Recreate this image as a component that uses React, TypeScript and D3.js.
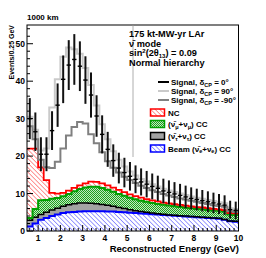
import React from 'react'
import * as d3 from 'd3'

// energy binning (GeV)
const E_MIN = 0.5
const BIN = 0.25

// background components, events per 0.25 GeV bin (stacked bottom -> top)
const beamNue = [1.2, 2.0, 3.0, 3.5, 4.0, 4.4, 4.8, 5.0, 5.1, 5.2, 5.3, 5.3, 5.3, 5.3, 5.2, 5.2, 5.1, 5.0, 4.9, 4.8, 4.7, 4.6, 4.5, 4.4, 4.3, 4.2, 4.1, 4.0, 3.9, 3.8, 3.7, 3.6, 3.5, 3.4, 3.3, 3.0, 2.6, 2.5]
const tauCC = [1.7, 1.7, 1.4, 1.5, 1.6, 1.7, 1.8, 2.0, 2.2, 2.3, 2.2, 2.1, 2.0, 1.8, 1.7, 1.4, 1.2, 1.0, 0.8, 0.6, 0.5, 0.4, 0.3, 0.2, 0.2, 0.1, 0.1, 0.1, 0.1, 0.1, 0.1, 0.1, 0.1, 0.1, 0.1, 0.1, 0.1, 0.1]
const numuCC = [0.6, 2.2, 3.8, 3.3, 3.0, 2.7, 2.7, 2.9, 3.3, 3.7, 4.1, 4.4, 4.5, 4.4, 4.1, 3.9, 3.6, 3.4, 3.2, 3.1, 2.9, 2.8, 2.7, 2.6, 2.5, 2.5, 2.4, 2.3, 2.2, 2.2, 2.1, 2.1, 2.0, 2.0, 2.0, 2.1, 1.7, 1.7]
const ncBg = [18.5, 16.1, 8.8, 5.3, 1.6, 1.2, 0.9, 0.9, 0.9, 1.0, 1.1, 1.4, 1.3, 1.2, 1.2, 1.1, 1.1, 1.0, 0.9, 0.8, 0.8, 0.7, 0.7, 0.7, 0.6, 0.6, 0.6, 0.6, 0.6, 0.5, 0.5, 0.5, 0.5, 0.4, 0.4, 0.4, 0.4, 0.4]

// signal + background totals
const totalDcp0 = [30, 26.5, 20.5, 20.5, 26.8, 33.6, 40.5, 44.3, 45.8, 44, 40.3, 36.3, 30.7, 25.8, 21.8, 18.8, 16.8, 15.6, 14.6, 13.8, 13.1, 12.5, 11.9, 11.4, 10.7, 10.3, 9.9, 9.5, 9.1, 8.7, 8.4, 8.1, 7.8, 7.5, 7.2, 6.9, 5.7, 5.5]
const totalDcp90 = [30.5, 27, 21.5, 22, 33, 40.5, 46.5, 49, 48.5, 47.3, 43.5, 39, 33.5, 28.5, 24.5, 21.3, 19, 17.2, 15.9, 14.8, 13.9, 13.2, 12.5, 11.9, 11.3, 10.8, 10.4, 10.0, 9.6, 9.2, 8.9, 8.6, 8.3, 8.0, 7.7, 7.4, 6.1, 5.9]
const totalDcpM90 = [28, 24.5, 19, 17, 16.8, 18.5, 22, 25.5, 27.8, 29.1, 28.7, 25.8, 23.4, 21, 18.6, 16.9, 15.6, 14.5, 13.6, 12.8, 12.1, 11.5, 10.9, 10.4, 9.9, 9.5, 9.1, 8.7, 8.4, 8.1, 7.8, 7.5, 7.2, 6.9, 6.7, 6.5, 5.3, 5.1]

const xTicks = [1, 2, 3, 4, 5, 6, 7, 8, 9, 10]
const yTicks = [0, 10, 20, 30, 40, 50]

const FONT = "'Liberation Sans', Arial, Helvetica, sans-serif"
const NUBAR = 'ν\u0304'

export default function App() {
  const W = 266, H = 258
  const x = d3.scaleLinear().domain([0.5, 10]).range([27, 238.5])
  const y = d3.scaleLinear().domain([0, 55]).range([231, 25])
  const n = beamNue.length
  const edges = d3.range(n + 1).map(i => E_MIN + i * BIN)

  const rows = d3.range(n).map(i => ({ beam: beamNue[i], tau: tauCC[i], numu: numuCC[i], nc: ncBg[i] }))
  const series = d3.stack<any>().keys(['beam', 'tau', 'numu', 'nc'])(rows)

  const pts = (vals: number[]) => [...vals.map((v, i) => [edges[i], v] as [number, number]), [edges[n], vals[n - 1]] as [number, number]]
  const stepLine = d3.line<[number, number]>().x(d => x(d[0])).y(d => y(d[1])).curve(d3.curveStepAfter)
  const stepArea = d3.area<[number, number, number]>()
    .x(d => x(d[0])).y0(d => y(d[1])).y1(d => y(d[2])).curve(d3.curveStepAfter)

  const layer = (s: any) => {
    const lo = s.map((d: any) => d[0])
    const hi = s.map((d: any) => d[1])
    const a = [...lo.map((v: number, i: number) => [edges[i], v, hi[i]]), [edges[n], lo[n - 1], hi[n - 1]]] as [number, number, number][]
    return { area: stepArea(a) || '', top: stepLine(pts(hi)) || '' }
  }
  const fills: Record<string, { fill: string; stroke: string; sw: number }> = {
    beam: { fill: 'url(#hBlue)', stroke: '#0000ff', sw: 2 },
    tau: { fill: '#a3a3a3', stroke: '#000', sw: 1.5 },
    numu: { fill: 'url(#hGreen)', stroke: '#00a000', sw: 2 },
    nc: { fill: 'url(#hRed)', stroke: '#ff0000', sw: 1.8 },
  }

  const minorX = d3.range(0.6, 10.0001, 0.2).filter(v => Math.abs(v - Math.round(v)) > 1e-6)
  const minorY = d3.range(0, 55, 2).filter(v => v % 10 !== 0)

  const legLines = [
    { label: '0', color: '#000', y: 82 },
    { label: '90', color: '#cacaca', y: 91 },
    { label: '-90', color: '#808080', y: 100 },
  ]

  const flav = (f: string) => (
    <>(<tspan>{NUBAR}</tspan><tspan dy={1.8} fontSize={5.5}>{f}</tspan><tspan dy={-1.8}>+ν</tspan><tspan dy={1.8} fontSize={5.5}>{f}</tspan><tspan dy={-1.8}>) CC</tspan></>
  )

  return (
    <svg width={W} height={H} style={{ position: 'fixed', left: 0, top: 0, background: '#fff' }} fontFamily={FONT} fontWeight="bold">
      <defs>
        <pattern id="hRed" width="3.2" height="3.2" patternUnits="userSpaceOnUse" patternTransform="rotate(-45)">
          <rect width="3.2" height="3.2" fill="#fff" />
          <line x1="0" y1="0" x2="0" y2="3.2" stroke="#ff3030" strokeWidth="1" />
        </pattern>
        <pattern id="hBlue" width="3.2" height="3.2" patternUnits="userSpaceOnUse" patternTransform="rotate(-45)">
          <rect width="3.2" height="3.2" fill="#fff" />
          <line x1="0" y1="0" x2="0" y2="3.2" stroke="#3a3aff" strokeWidth="1" />
        </pattern>
        <pattern id="hGreen" width="2" height="2" patternUnits="userSpaceOnUse">
          <rect width="2" height="2" fill="#bfeabf" />
          <rect width="1" height="1" fill="#1f9f1f" />
          <rect x="1" y="1" width="1" height="1" fill="#1f9f1f" />
        </pattern>
      </defs>

      {/* stacked backgrounds */}
      {series.map(s => {
        const l = layer(s)
        return <path key={`a-${s.key}`} d={l.area} fill={fills[s.key].fill} stroke="none" />
      })}
      {series.map(s => {
        const l = layer(s)
        return <path key={`l-${s.key}`} d={l.top} fill="none" stroke={fills[s.key].stroke} strokeWidth={fills[s.key].sw} />
      })}

      {/* signal hypotheses */}
      <path d={stepLine(pts(totalDcp90)) || ''} fill="none" stroke="#cacaca" strokeWidth={2} />
      <path d={stepLine(pts(totalDcpM90)) || ''} fill="none" stroke="#808080" strokeWidth={2} />

      {/* dcp = 0 with stat errors */}
      {totalDcp0.map((v, i) => {
        const cx = x(edges[i] + BIN / 2)
        const e = Math.sqrt(v)
        return (
          <g key={`d-${i}`}>
            <line x1={cx} x2={cx} y1={y(v + e)} y2={y(Math.max(0, v - e))} stroke="#111" strokeWidth={2} />
            <line x1={x(edges[i]) + 0.6} x2={x(edges[i + 1]) - 0.6} y1={y(v)} y2={y(v)} stroke="#000" strokeWidth={1.4} />
          </g>
        )
      })}

      {/* frame + ticks */}
      <rect x={x(0.5)} y={y(55)} width={x(10) - x(0.5)} height={y(0) - y(55)} fill="none" stroke="#000" strokeWidth={1} />
      {yTicks.map(t => (
        <g key={`yt-${t}`}>
          <line x1={x(0.5)} x2={x(0.5) + 6} y1={y(t)} y2={y(t)} stroke="#000" />
          <text x={x(0.5) - 2} y={y(t) + 3} fontSize={8.5} textAnchor="end">{t}</text>
        </g>
      ))}
      {minorY.map(t => <line key={`ym-${t}`} x1={x(0.5)} x2={x(0.5) + 3} y1={y(t)} y2={y(t)} stroke="#000" />)}
      {xTicks.map(t => (
        <g key={`xt-${t}`}>
          <line x1={x(t)} x2={x(t)} y1={y(0)} y2={y(0) - 6} stroke="#000" />
          <text x={x(t)} y={241} fontSize={8.5} textAnchor="middle">{t}</text>
        </g>
      ))}
      {minorX.map(t => <line key={`xm-${t.toFixed(1)}`} x1={x(t)} x2={x(t)} y1={y(0)} y2={y(0) - 3} stroke="#000" />)}

      <text x={239} y={251.5} fontSize={9.5} textAnchor="end">Reconstructed Energy (GeV)</text>
      <text transform="translate(14,25) rotate(-90)" fontSize={7} textAnchor="end">Events/0.25 GeV</text>
      <text x={27} y={20} fontSize={8}>1000 km</text>

      {/* header */}
      <line x1={133} x2={133} y1={25} y2={157} stroke="#9a9a9a" strokeWidth={0.8} />
      <g fontSize={9.2}>
        <text x={129} y={37}>175 kt-MW-yr LAr</text>
        <text x={129} y={46.5}>{NUBAR} mode</text>
        <text x={129} y={56}>sin<tspan dy={-3} fontSize={6}>2</tspan><tspan dy={3}>(2θ</tspan><tspan dy={2} fontSize={6}>13</tspan><tspan dy={-2}>) = 0.09</tspan></text>
        <text x={129} y={66}>Normal hierarchy</text>
      </g>

      {/* legend */}
      <g fontSize={8}>
        {legLines.map(l => (
          <g key={`ll-${l.label}`}>
            <line x1={158} x2={169} y1={l.y} y2={l.y} stroke={l.color} strokeWidth={2} />
            <text x={171} y={l.y + 3}>Signal, δ<tspan dy={1.8} fontSize={5.5}>CP</tspan><tspan dy={-1.8}> = {l.label}°</tspan></text>
          </g>
        ))}
        <rect x={150.5} y={109} width={14} height={7} fill="url(#hRed)" stroke="#ff0000" strokeWidth={1.5} />
        <text x={168} y={115.5}>NC</text>
        <rect x={150.5} y={120.5} width={14} height={7} fill="url(#hGreen)" stroke="#00a000" strokeWidth={1.5} />
        <text x={168} y={127}>{flav('μ')}</text>
        <rect x={150.5} y={132.5} width={14} height={7} fill="#a3a3a3" stroke="#000" strokeWidth={1.5} />
        <text x={168} y={139}>{flav('τ')}</text>
        <rect x={150.5} y={145} width={14} height={7} fill="url(#hBlue)" stroke="#0000ff" strokeWidth={1.5} />
        <text x={168} y={151.5}>Beam {flav('e')}</text>
      </g>
    </svg>
  )
}
